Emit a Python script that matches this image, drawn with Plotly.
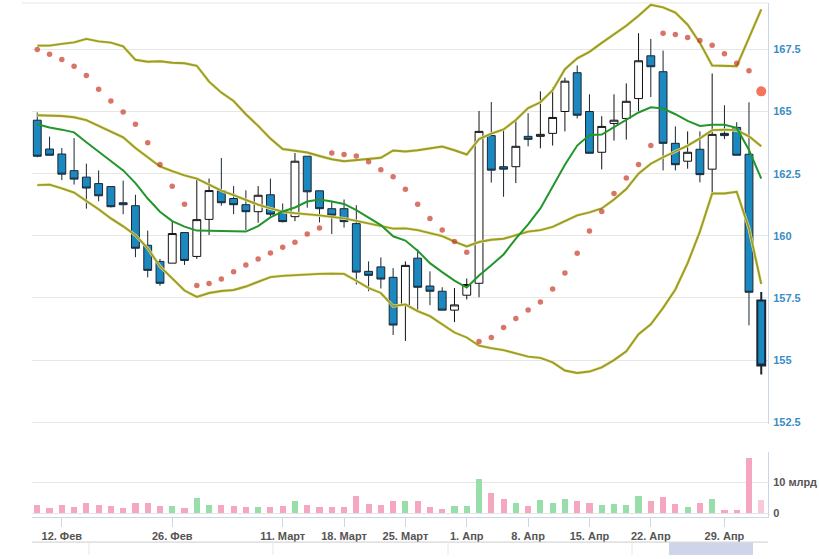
import plotly.graph_objects as go

# ---------------- data ----------------
day_index = list(range(60))

open_ = [164.65, 163.49, 163.29, 162.62, 162.36, 162.10, 161.98, 161.33, 161.21, 159.62,
         158.97, 158.90, 160.13, 159.17, 160.66, 161.81, 161.50, 161.25, 160.97, 161.65,
         160.97, 160.77, 163.20, 161.81, 161.09, 161.09, 160.49, 158.57, 158.75, 158.33,
         157.21, 159.10, 157.98, 157.77, 157.01, 157.61, 158.09, 164.03, 162.78, 162.78,
         164.00, 164.00, 164.12, 165.00, 166.56, 165.00, 163.36, 164.52, 164.72, 165.52,
         167.24, 166.60, 163.72, 163.00, 163.48, 162.68, 164.12, 164.36, 163.28, 157.40]
high = [164.96, 163.99, 163.53, 163.93, 162.90, 162.63, 161.98, 162.22, 161.65, 160.21,
        159.07, 160.57, 160.13, 162.30, 162.30, 163.13, 162.00, 161.83, 162.00, 162.30,
        161.30, 163.33, 163.20, 161.81, 161.41, 161.46, 161.23, 158.97, 159.13, 158.70,
        158.97, 159.46, 158.57, 157.93, 157.90, 158.28, 165.02, 165.38, 164.29, 164.66,
        164.93, 165.81, 165.97, 166.36, 166.85, 165.69, 164.81, 165.69, 166.13, 168.15,
        167.92, 167.45, 164.40, 164.20, 164.20, 166.53, 165.25, 164.57, 165.37, 157.74]
low = [163.16, 163.24, 162.24, 162.06, 161.09, 161.39, 161.14, 160.87, 159.14, 158.33,
       157.99, 158.90, 158.83, 159.07, 160.03, 161.21, 160.87, 160.23, 160.53, 160.77,
       160.54, 160.59, 161.13, 160.54, 160.07, 160.33, 158.04, 157.77, 157.88, 156.01,
       155.77, 156.95, 157.21, 157.01, 156.53, 157.44, 157.53, 162.14, 161.57, 162.12,
       163.60, 163.52, 163.63, 164.20, 164.72, 163.32, 162.67, 163.83, 163.87, 165.02,
       165.58, 162.63, 162.63, 162.70, 162.15, 161.71, 163.89, 163.24, 156.40, 154.42]
close = [163.20, 163.24, 162.48, 162.28, 161.92, 161.61, 161.17, 161.25, 159.50, 158.61,
         158.09, 160.09, 159.01, 160.65, 161.82, 161.33, 161.25, 160.97, 161.63, 160.87,
         160.57, 163.00, 161.77, 161.09, 160.83, 160.57, 158.54, 158.41, 158.26, 156.41,
         158.81, 157.93, 157.77, 157.01, 157.22, 158.04, 164.20, 162.64, 162.68, 163.60,
         163.88, 164.08, 164.76, 166.22, 164.85, 163.32, 164.40, 164.65, 165.41, 167.04,
         166.80, 163.72, 162.86, 163.36, 162.46, 164.08, 164.03, 163.24, 157.73, 154.78]

volume_bn = [2.7, 1.85, 2.7, 2.17, 3.47, 2.6, 2.5, 1.85, 3.47, 3.47,
             2.5, 2.5, 1.85, 5.1, 2.7, 2.7, 2.5, 2.17, 2.17, 2.17,
             2.5, 4.13, 2.7, 2.17, 2.17, 2.17, 5.64, 3.04, 2.7, 4.13,
             4.13, 4.13, 1.96, 1.52, 2.5, 2.5, 11.3, 6.74, 4.78, 3.48,
             2.5, 4.46, 3.48, 4.78, 4.13, 3.48, 2.83, 3.15, 2.83, 5.76,
             4.13, 5.43, 3.15, 2.17, 3.48, 4.78, 1.09, 1.09, 18.15, 4.46]

bb_upper = [167.65, 167.65, 167.72, 167.78, 167.92, 167.82, 167.77, 167.62, 167.08, 167.00,
            167.02, 166.96, 166.94, 166.84, 166.20, 165.76, 165.42, 164.89, 164.42, 163.91,
            163.49, 163.43, 163.35, 163.21, 163.08, 163.00, 163.04, 163.07, 163.14, 163.43,
            163.39, 163.44, 163.52, 163.59, 163.44, 163.27, 163.89, 164.11, 164.28, 164.66,
            165.14, 165.37, 165.86, 166.70, 167.14, 167.40, 167.76, 168.09, 168.45, 168.85,
            169.29, 169.19, 168.98, 168.49, 167.76, 166.85, 166.82, 166.82, 167.96, 169.11]
bb_middle = [164.85, 164.85, 164.82, 164.77, 164.65, 164.42, 164.19, 163.96, 163.53, 163.16,
             162.79, 162.60, 162.43, 162.30, 162.06, 161.82, 161.64, 161.44, 161.25, 161.10,
             160.97, 160.91, 160.88, 160.82, 160.76, 160.70, 160.60, 160.49, 160.38, 160.29,
             160.30, 160.23, 160.11, 159.99, 159.77, 159.57, 159.75, 159.84, 159.88, 160.01,
             160.17, 160.23, 160.36, 160.59, 160.82, 160.94, 161.10, 161.46, 161.88, 162.50,
             162.90, 163.16, 163.39, 163.63, 163.92, 164.25, 164.27, 164.25, 164.00, 163.60]
bb_lower = [162.04, 162.06, 161.91, 161.74, 161.40, 161.07, 160.70, 160.38, 160.02, 159.50,
            158.77, 158.30, 157.80, 157.54, 157.70, 157.78, 157.82, 157.96, 158.14, 158.34,
            158.39, 158.42, 158.45, 158.47, 158.48, 158.47, 158.19, 157.90, 157.70, 157.17,
            157.24, 156.97, 156.77, 156.44, 156.11, 155.91, 155.58, 155.48, 155.40, 155.27,
            155.14, 155.09, 154.91, 154.58, 154.48, 154.54, 154.71, 155.00, 155.35, 156.04,
            156.44, 157.10, 157.84, 158.90, 160.17, 161.70, 161.70, 161.77, 160.30, 158.06]
moving_avg = [164.49, 164.36, 164.27, 164.16, 163.76, 163.39, 163.03, 162.63, 162.12, 161.50,
              160.97, 160.59, 160.37, 160.21, 160.20, 160.19, 160.18, 160.17, 160.39, 160.74,
              160.98, 161.14, 161.38, 161.46, 161.38, 161.28, 161.03, 160.74, 160.43, 159.98,
              159.81, 159.40, 158.90, 158.54, 158.20, 157.92, 158.40, 158.82, 159.25, 159.89,
              160.46, 161.10, 161.96, 162.86, 163.63, 164.05, 164.07, 164.36, 164.67, 164.96,
              165.17, 165.12, 164.89, 164.62, 164.42, 164.47, 164.47, 164.34, 163.45, 162.30]
psar = [167.49, 167.30, 167.09, 166.82, 166.45, 165.89, 165.42, 164.98, 164.49, 163.74,
        162.87, 161.99, 161.27, 158.00, 158.08, 158.26, 158.55, 158.83, 159.07, 159.31,
        159.54, 159.74, 160.07, 160.31, 163.33, 163.27, 163.21, 162.98, 162.66, 162.38,
        161.87, 161.27, 160.70, 160.23, 159.77, 159.34, 155.75, 155.91, 156.31, 156.67,
        157.02, 157.34, 157.86, 158.50, 159.30, 160.19, 160.98, 161.70, 162.32, 162.87,
        163.63, 168.15, 168.10, 167.98, 167.86, 167.66, 167.32, 166.94, 166.64, 165.81]

tick_days = [2, 11, 20, 25, 30, 35, 40, 45, 50, 56]
tick_labels = ["12. Фев", "26. Фев", "11. Март", "18. Март", "25. Март",
               "1. Апр", "8. Апр", "15. Апр", "22. Апр", "29. Апр"]
price_ticks = [152.5, 155, 157.5, 160, 162.5, 165, 167.5]
price_tick_text = ["152.5", "155", "157.5", "160", "162.5", "165", "167.5"]
volume_ticks = [0, 10, 20]
volume_tick_text = ["0", "10 млрд", ""]

# ---------------- styling ----------------
W, H = 819, 559
PLOT_L, PLOT_R = 32, 768
BLUE = "#1b89c0"
OLIVE = "#9c9c2e"
OLIVE_GLOW = "#ecec9c"
GREEN = "#22962a"
PINK = "#f5a6c1"
LGREEN = "#98deab"
GRID = "#e6e6e6"


def py(px):
    return 1 - px / H


def px_x(px):
    return (px - PLOT_L) / (PLOT_R - PLOT_L)


fig = go.Figure()

n = len(day_index)
fig.add_trace(go.Candlestick(
    x=day_index[:-1], open=open_[:-1], high=high[:-1], low=low[:-1], close=close[:-1],
    increasing=dict(line=dict(color="#111111", width=1), fillcolor="#ffffff"),
    decreasing=dict(line=dict(color="#1a2633", width=1), fillcolor=BLUE),
    whiskerwidth=0, yaxis="y", hoverinfo="skip"))
fig.add_trace(go.Candlestick(
    x=day_index[-1:], open=open_[-1:], high=high[-1:], low=low[-1:], close=close[-1:],
    increasing=dict(line=dict(color="#111111", width=2), fillcolor="#ffffff"),
    decreasing=dict(line=dict(color="#1a2633", width=2), fillcolor=BLUE),
    whiskerwidth=0, yaxis="y", hoverinfo="skip"))

for series in (bb_upper, bb_middle, bb_lower):
    fig.add_trace(go.Scatter(x=day_index, y=series, mode="lines",
                             line=dict(color=OLIVE_GLOW, width=3), yaxis="y", hoverinfo="skip"))
    fig.add_trace(go.Scatter(x=day_index, y=series, mode="lines",
                             line=dict(color=OLIVE, width=1.9), yaxis="y", hoverinfo="skip"))
fig.add_trace(go.Scatter(x=day_index, y=moving_avg, mode="lines",
                         line=dict(color=GREEN, width=2), yaxis="y", hoverinfo="skip"))

sar_sizes = [5.5] * (n - 1) + [10]
sar_colors = ["#c83a28"] * (n - 1) + ["#ec3b17"]
fig.add_trace(go.Scatter(x=day_index, y=psar, mode="markers",
                         marker=dict(size=sar_sizes, color=sar_colors, line=dict(width=0)),
                         yaxis="y", hoverinfo="skip"))

vol_colors = [LGREEN if c >= o else PINK for o, c in zip(open_, close)]
vol_colors[-1] = "#f8c9d9"
fig.add_trace(go.Bar(x=day_index, y=volume_bn, marker=dict(color=vol_colors, line=dict(width=0)),
                     width=0.5, yaxis="y2", hoverinfo="skip"))

shapes = [
    dict(type="line", xref="paper", yref="paper", x0=px_x(22), x1=1, y0=py(3), y1=py(3),
         line=dict(color=GRID, width=1)),
    dict(type="line", xref="paper", yref="paper", x0=0, x1=1, y0=py(546), y1=py(546),
         line=dict(color="#cccccc", width=1)),
    dict(type="rect", xref="paper", yref="paper", x0=px_x(669), x1=px_x(753), y0=0, y1=py(546.5),
         fillcolor="#cfd5e9", line=dict(width=0)),
]
for vx in [89, 273, 448, 632]:
    shapes.append(dict(type="line", xref="paper", yref="paper", x0=px_x(vx), x1=px_x(vx),
                       y0=0, y1=py(546), line=dict(color=GRID, width=1)))

fig.update_layout(
    width=W, height=H,
    margin=dict(l=PLOT_L, r=W - PLOT_R, t=0, b=0),
    paper_bgcolor="white", plot_bgcolor="white",
    showlegend=False,
    boxgap=0.2, boxgroupgap=0.2,
    bargap=0,
    font=dict(family="Liberation Sans, Arial, sans-serif"),
    xaxis=dict(range=[-0.43, 59.55], anchor="y2", showgrid=False, zeroline=False,
               tickvals=tick_days, ticktext=tick_labels, ticks="outside", ticklen=9,
               tickcolor="#ccd6eb", showline=True, linecolor="#ccd6eb", linewidth=1,
               tickfont=dict(size=11, color="#555555", weight="bold"),
               rangeslider=dict(visible=False), fixedrange=True),
    yaxis=dict(domain=[py(427), py(3)], range=[152.432, 169.365], side="right",
               tickvals=price_ticks, ticktext=price_tick_text,
               showgrid=True, gridcolor=GRID, zeroline=False,
               showline=True, linecolor="#ccd6eb", linewidth=1,
               tickfont=dict(size=11, color="#3b8dc4", weight="bold"), ticklabelstandoff=2),
    yaxis2=dict(domain=[py(521), py(455)], range=[-1.4, 20.1], side="right",
                tickvals=volume_ticks, ticktext=volume_tick_text,
                showgrid=True, gridcolor=GRID, zeroline=False,
                showline=True, linecolor="#ccd6eb", linewidth=1,
                tickfont=dict(size=11, color="#555555", weight="bold"), ticklabelstandoff=2),
    shapes=shapes,
)

fig.write_html("out.html")
